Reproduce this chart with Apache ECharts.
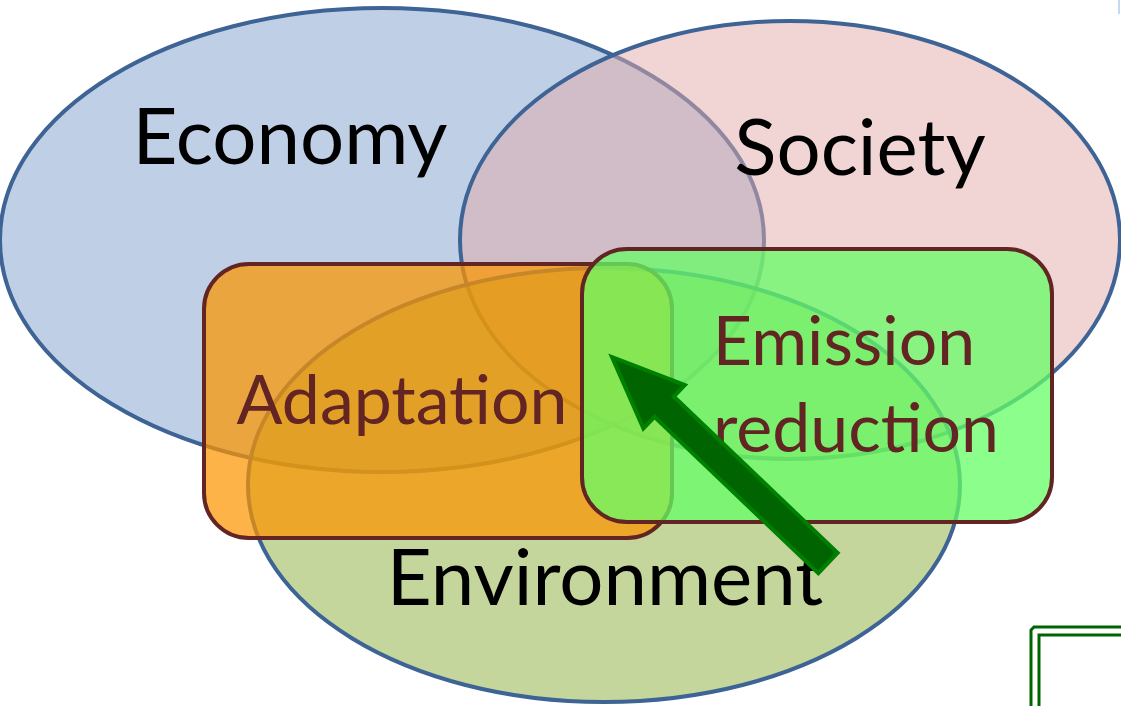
<!DOCTYPE html>
<html>
<head>
<meta charset="utf-8">
<script src="https://cdn.jsdelivr.net/npm/echarts@6/dist/echarts.min.js"></script>
<style>
html, body { margin: 0; padding: 0; background: #fff; }
#main { width: 1121px; height: 706px; }
</style>
</head>
<body>
<div id="main"></div>
<script>
// the three circles of the diagram (centre and half-axes, in picture units)
var circleNames = ['Economy', 'Society', 'Environment'];
var circleCx = [382, 790, 604];
var circleCy = [240, 240, 485];
var circleRx = [382, 330, 356];
var circleRy = [232, 219, 217];

// the two boxes laid over them
var boxNames = ['Adaptation', 'Emission reduction'];
var boxX0 = [204, 582];
var boxY0 = [264, 249];
var boxX1 = [672, 1052];
var boxY1 = [538, 522];

// arrow from tail to tip
var arrowFrom = [828, 563];
var arrowTo = [612, 357];

// texts
var labelText = ['Economy', 'Society', 'Environment', 'Adaptation', 'Emission', 'reduction'];
var labelX = [290, 860, 605, 402, 844, 856];
var labelY = [139, 150, 580, 402, 343, 430];
var labelKind = [0, 0, 0, 1, 1, 1];

var circleFill = ['rgba(127,161,205,0.5)', 'rgba(227,171,171,0.5)', 'rgba(137,173,57,0.5)'];
var boxFill = ['rgba(252,149,0,0.72)', 'rgba(101,253,101,0.75)'];

var myChart = echarts.init(document.getElementById('main'));

var circleData = circleNames.map(function (n, i) {
    return [circleCx[i], circleCy[i], circleRx[i], circleRy[i], n];
});
var boxData = boxNames.map(function (n, i) {
    return [boxX0[i], boxY0[i], boxX1[i], boxY1[i], n];
});
var labelData = labelText.map(function (t, i) {
    return [labelX[i], labelY[i], labelKind[i], t];
});

var option = {
    animation: false,
    grid: { left: 0, right: 0, top: 0, bottom: 0 },
    xAxis: { type: 'value', min: 0, max: 1121, show: false },
    yAxis: { type: 'value', min: 0, max: 706, inverse: true, show: false },
    series: [
        {
            type: 'custom',
            name: 'circles',
            data: circleData,
            renderItem: function (params, api) {
                var c = api.coord([api.value(0), api.value(1)]);
                var s = api.size([api.value(2), api.value(3)]);
                return {
                    type: 'ellipse',
                    shape: { cx: c[0], cy: c[1], rx: s[0], ry: s[1] },
                    style: { fill: circleFill[params.dataIndex], stroke: '#3e6395', lineWidth: 4 }
                };
            }
        },
        {
            type: 'custom',
            name: 'boxes',
            data: boxData,
            renderItem: function (params, api) {
                var p0 = api.coord([api.value(0), api.value(1)]);
                var p1 = api.coord([api.value(2), api.value(3)]);
                return {
                    type: 'rect',
                    shape: { x: p0[0], y: p0[1], width: p1[0] - p0[0], height: p1[1] - p0[1], r: 45 },
                    style: { fill: boxFill[params.dataIndex], stroke: '#632523', lineWidth: 4 }
                };
            }
        },
        {
            type: 'custom',
            name: 'arrow',
            data: [[arrowFrom[0], arrowFrom[1], arrowTo[0], arrowTo[1]]],
            renderItem: function (params, api) {
                var a = api.coord([api.value(0), api.value(1)]);
                var b = api.coord([api.value(2), api.value(3)]);
                var dx = b[0] - a[0], dy = b[1] - a[1];
                var len = Math.sqrt(dx * dx + dy * dy);
                var ux = dx / len, uy = dy / len;
                var nx = -uy, ny = ux;
                var shaft = 14, head = 30, headLen = 72;
                var hx = b[0] - ux * headLen, hy = b[1] - uy * headLen;
                var pts = [
                    [a[0] + nx * shaft, a[1] + ny * shaft],
                    [hx + nx * shaft, hy + ny * shaft],
                    [hx + nx * head, hy + ny * head],
                    [b[0], b[1]],
                    [hx - nx * head, hy - ny * head],
                    [hx - nx * shaft, hy - ny * shaft],
                    [a[0] - nx * shaft, a[1] - ny * shaft]
                ];
                return {
                    type: 'polygon',
                    shape: { points: pts },
                    style: { fill: '#006400', stroke: '#008000', lineWidth: 4, lineJoin: 'miter' }
                };
            },
            z: 3
        },
        {
            type: 'custom',
            name: 'labels',
            data: labelData,
            renderItem: function (params, api) {
                var p = api.coord([api.value(0), api.value(1)]);
                var kind = api.value(2);
                return {
                    type: 'text',
                    style: {
                        text: labelText[params.dataIndex],
                        x: p[0], y: p[1],
                        align: 'center', verticalAlign: 'middle',
                        fontFamily: 'Lato',
                        fontSize: kind === 0 ? 78 : 68,
                        fill: kind === 0 ? '#000' : '#632523'
                    }
                };
            },
            z: 2
        }
    ],
    graphic: [
        { type: 'polyline', shape: { points: [[1031, 706], [1031, 630], [1034, 627], [1121, 627]] }, style: { stroke: '#006400', lineWidth: 3, fill: null } },
        { type: 'polyline', shape: { points: [[1039, 706], [1039, 635], [1121, 635]] }, style: { stroke: '#006400', lineWidth: 3, fill: null } },
        { type: 'line', shape: { x1: 1119, y1: 0, x2: 1119, y2: 14 }, style: { stroke: '#c6d9f1', lineWidth: 2 } }
    ]
};

myChart.setOption(option);
</script>
</body>
</html>
